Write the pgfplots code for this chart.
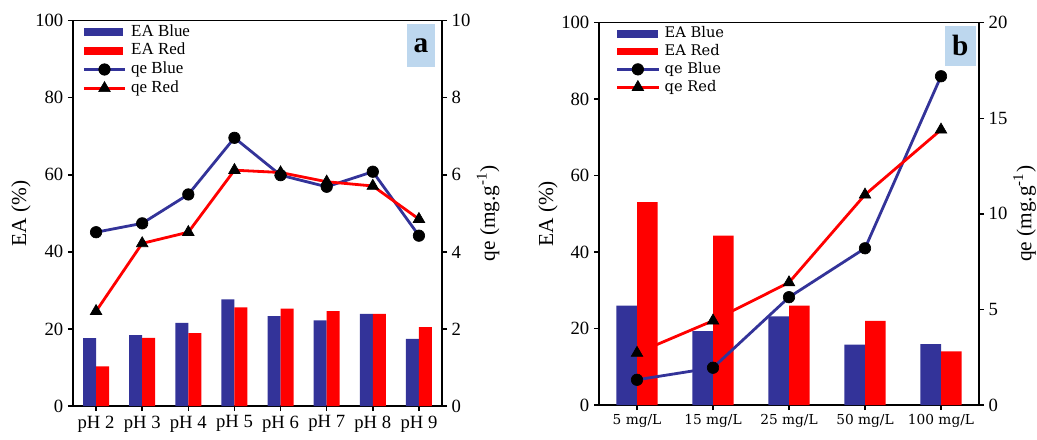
\documentclass[border=0pt]{standalone}
\usepackage{pgfplots}
\pgfplotsset{compat=1.18}
\usepackage{fontspec}
\setmainfont{Liberation Serif}
\newfontfamily\dvs{DejaVu Serif}
\definecolor{eablue}{RGB}{51,51,153}
\definecolor{eared}{RGB}{255,0,0}
\definecolor{boxblue}{RGB}{189,215,238}
\pgfplotsset{
  common/.style={
    scale only axis,
    anchor=south west,
    tick align=outside,
    major tick length=3.75pt,
    axis line style={line width=1.1pt},
    major tick style={line width=1.1pt, black},
    /pgf/number format/assume math mode=true,
    tick label style={font=\fontsize{14}{16}\selectfont},
    label style={font=\fontsize{16}{18}\selectfont},
    ymin=0,
  },
  lineleg/.style={
    legend image code/.code={\draw[mark repeat=2,mark phase=2,##1] plot coordinates {(0pt,0pt)(15.5pt,0pt)(31pt,0pt)};}
  },
}
\begin{document}
\begin{tikzpicture}
\path[use as bounding box] (0pt,0pt) rectangle (777.75pt,-329.25pt);
% ================= panel a =================
\begin{axis}[common,
  at={(54.75pt,-304.5pt)}, width=276.75pt, height=289pt,
  xmin=-0.5, xmax=7.5, ymax=100,
  xtick={0,1,2,3,4,5,6,7},
  xticklabels={pH 2,pH 3,pH 4,pH 5,pH 6,pH 7,pH 8,pH 9},
  ytick={0,20,40,60,80,100},
  xtick pos=bottom, ytick pos=left,
  ylabel={EA (\%)},
  ylabel style={at={(axis description cs:-0.141,0.5)}, anchor=center, rotate=0},
]
\addplot[ybar, bar width=9.75pt, bar shift=-4.875pt, fill=eablue, draw=none]
  coordinates {(0,17.6)(1,18.4)(2,21.6)(3,27.7)(4,23.3)(5,22.2)(6,23.9)(7,17.4)};
\addplot[ybar, bar width=9.75pt, bar shift=4.875pt, fill=eared, draw=none]
  coordinates {(0,10.3)(1,17.7)(2,18.9)(3,25.6)(4,25.3)(5,24.6)(6,23.9)(7,20.5)};
\end{axis}
\begin{axis}[common,
  at={(54.75pt,-304.5pt)}, width=276.75pt, height=289pt,
  xmin=-0.5, xmax=7.5, ymax=10,
  axis x line=none, axis y line*=right,
  ytick={0,2,4,6,8,10},
  ylabel={qe (mg.g\textsuperscript{-1})},
  ylabel style={at={(axis description cs:1.125,0.5)}, anchor=center, rotate=0},
  lineleg,
  legend cell align=left,
  legend style={draw=none, fill=none, at={(axis description cs:0.014,0.997)}, anchor=north west,
    font=\fontsize{12.7}{14}\selectfont, row sep=3.4pt, column sep=3.5pt,
    nodes={inner sep=0pt, text height=8.5pt, text depth=2.2pt}},
]
\addlegendimage{legend image code/.code={\fill[eablue] (0pt,-2.5pt) rectangle (29pt,2.5pt);}}
\addlegendentry{EA Blue}
\addlegendimage{legend image code/.code={\fill[eared] (0pt,-2.5pt) rectangle (29pt,2.5pt);}}
\addlegendentry{EA Red}
\addplot[eablue, line width=2.1pt, mark=*, mark size=4.3pt, mark options={fill=black, draw=black, line width=0.5pt}]
  coordinates {(0,4.51)(1,4.74)(2,5.49)(3,6.96)(4,5.99)(5,5.69)(6,6.08)(7,4.42)};
\addlegendentry{qe Blue}
\addplot[eared, line width=2.1pt, mark=triangle*, mark size=5pt, mark options={fill=black, draw=black, line width=0.5pt}]
  coordinates {(0,2.46)(1,4.22)(2,4.51)(3,6.12)(4,6.06)(5,5.82)(6,5.71)(7,4.85)};
\addlegendentry{qe Red}
\node[fill=boxblue, minimum width=21pt, minimum height=32pt, inner sep=0pt,
  font=\bfseries\fontsize{22}{22}\selectfont] at (axis description cs:0.943,0.936) {a};
\end{axis}
% ================= panel b =================
\begin{axis}[common,
  at={(449.25pt,-303.75pt)}, width=285pt, height=286.7pt,
  xmin=-0.5, xmax=4.5, ymax=100,
  xtick={0,1,2,3,4},
  xticklabels={5 mg/L,15 mg/L,25 mg/L,50 mg/L,100 mg/L},
  xticklabel style={font=\dvs\fontsize{10.3}{12}\selectfont},
  ytick={0,20,40,60,80,100},
  xtick pos=bottom, ytick pos=left,
  ylabel={EA (\%)},
  ylabel style={at={(axis description cs:-0.134,0.5)}, anchor=center, rotate=0},
]
\addplot[ybar, bar width=15.5pt, bar shift=-7.75pt, fill=eablue, draw=none]
  coordinates {(0,26.0)(1,19.3)(2,23.2)(3,15.8)(4,15.9)};
\addplot[ybar, bar width=15.5pt, bar shift=7.75pt, fill=eared, draw=none]
  coordinates {(0,53.1)(1,44.3)(2,26.0)(3,22.0)(4,14.0)};
\end{axis}
\begin{axis}[common,
  at={(449.25pt,-303.75pt)}, width=285pt, height=286.7pt,
  xmin=-0.5, xmax=4.5, ymax=20,
  axis x line=none, axis y line*=right,
  ytick={0,5,10,15,20},
  ylabel={qe (mg.g\textsuperscript{-1})},
  ylabel style={at={(axis description cs:1.12,0.5)}, anchor=center, rotate=0},
  lineleg,
  legend cell align=left,
  legend style={draw=none, fill=none, at={(axis description cs:0.033,0.997)}, anchor=north west,
    font=\dvs\fontsize{11}{13}\selectfont, row sep=3.2pt, column sep=3.5pt,
    nodes={inner sep=0pt, text height=8pt, text depth=2.2pt}},
]
\addlegendimage{legend image code/.code={\fill[eablue] (0pt,-2.4pt) rectangle (30pt,2.4pt);}}
\addlegendentry{EA Blue}
\addlegendimage{legend image code/.code={\fill[eared] (0pt,-2.4pt) rectangle (30pt,2.4pt);}}
\addlegendentry{EA Red}
\addplot[eablue, line width=2.1pt, mark=*, mark size=4.3pt, mark options={fill=black, draw=black, line width=0.5pt}]
  coordinates {(0,1.32)(1,1.95)(2,5.64)(3,8.2)(4,17.2)};
\addlegendentry{qe Blue}
\addplot[eared, line width=2.1pt, mark=triangle*, mark size=5pt, mark options={fill=black, draw=black, line width=0.5pt}]
  coordinates {(0,2.72)(1,4.41)(2,6.41)(3,11.0)(4,14.4)};
\addlegendentry{qe Red}
\node[fill=boxblue, minimum width=23.25pt, minimum height=29.8pt, inner sep=0pt,
  font=\bfseries\fontsize{22}{22}\selectfont] at (axis description cs:0.951,0.9396) {b};
\end{axis}
\end{tikzpicture}
\end{document}
